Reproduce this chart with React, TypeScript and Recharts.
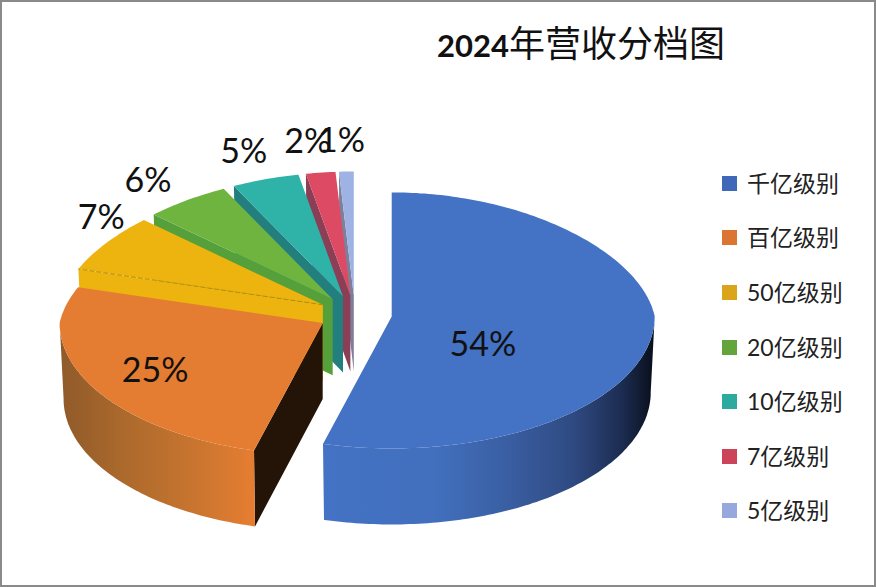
import { Legend, Pie, PieChart } from "recharts";

const CATEGORIES = ["千亿级别", "百亿级别", "50亿级别", "20亿级别", "10亿级别", "7亿级别", "5亿级别"];
const SHARES = [54.2, 25.45, 7.3, 5.52, 4.52, 2.0, 1.0];
const TITLE_YEAR = "2024";
const TITLE_REST = "年营收分档图";

const TOP_COLORS = ["#4472C4", "#E47D31", "#EDB30F", "#6FB43F", "#2FB3A9", "#DC4A63", "#9FB2E4"];
const WALL_COLORS = ["#3A62A8", "#241408", "#EDB30F", "#55A03A", "#237E7E", "#8A3F56", "#7F7F9B"];
const SWATCH_COLORS = ["#3F69B8", "#DB7534", "#DBA51B", "#64A53B", "#2CAA9F", "#CB4459", "#97A9DC"];
const SIDE_FILLS = ["url(#blueSide)", "url(#orangeSide)"];

// projection of the tilted pie
const RX = 263;
const RY_BACK = 124;
const RY_FRONT = 132;
const DEPTH = 76;
const EXPLODE = 37;
const TILT = 0.5;
const BOTTOM_SCALE = 0.985;
const BACK_NARROWING = 0.1;

// label placement: fraction of the radius, then a small screen nudge
const LABEL_RADIUS = [0.35, 0.72, 1, 1, 1, 1, 1];
const LABEL_NUDGE = [[0, 20], [-2, -1], [-5, -27], [-39, -22], [-22, -30], [-13, -33], [-5, -33]];

const sin = (d: number) => Math.sin((d * Math.PI) / 180);
const cos = (d: number) => Math.cos((d * Math.PI) / 180);

const apexOf = (cx: number, cy: number, mid: number) => ({
  x: cx + EXPLODE * sin(mid),
  y: cy - EXPLODE * TILT * cos(mid),
});

const rim = (apex: { x: number; y: number }, a: number, f = 1) => {
  const back = cos(a) > 0;
  const narrow = back ? 1 - BACK_NARROWING * cos(a) : 1;
  const ry = back ? RY_BACK : RY_FRONT;
  return { x: apex.x + RX * f * narrow * sin(a), y: apex.y - ry * f * cos(a) };
};

const toPath = (pts: { x: number; y: number }[]) =>
  "M" + pts.map((p) => `${p.x.toFixed(1)},${p.y.toFixed(1)}`).join("L") + "Z";

const arcAngles = (from: number, to: number) => {
  const out: number[] = [];
  for (let a = from; a < to; a += 1) out.push(a);
  out.push(to);
  return out;
};

function Slice3D(props: any) {
  const { cx, cy, startAngle, endAngle, name } = props;
  const i = CATEGORIES.indexOf(name);
  const a0 = 450 - endAngle;
  const a1 = 450 - startAngle;
  const apex = apexOf(cx, cy, (a0 + a1) / 2);
  const down = (p: { x: number; y: number }) => ({
    x: apex.x + (p.x - apex.x) * BOTTOM_SCALE,
    y: p.y + DEPTH,
  });

  const top = [apex, ...arcAngles(a0, a1).map((a) => rim(apex, a))];
  const from = Math.max(a0, 90);
  const to = Math.min(a1, 270);
  const outerWall =
    from < to
      ? [
          ...arcAngles(from, to).map((a) => rim(apex, a)),
          ...arcAngles(from, to).reverse().map((a) => down(rim(apex, a))),
        ]
      : null;
  const edge = rim(apex, a0);
  const innerWall =
    sin(a0) < 0 ? [apex, edge, down(edge), { x: apex.x, y: apex.y + DEPTH }] : null;

  return (
    <g>
      {innerWall && <path d={toPath(innerWall)} fill={WALL_COLORS[i]} />}
      {outerWall && <path d={toPath(outerWall)} fill={SIDE_FILLS[i] || WALL_COLORS[i]} />}
      <path d={toPath(top)} fill={TOP_COLORS[i]} />
      {i === 2 && innerWall && (
        <line x1={apex.x} y1={apex.y} x2={edge.x} y2={edge.y} stroke="#A98512" strokeWidth={0.8} strokeDasharray="5 2" />
      )}
    </g>
  );
}

function renderLabel(props: any) {
  const { cx, cy, midAngle, name, percent } = props;
  const i = CATEGORIES.indexOf(name);
  const mid = 90 - midAngle + 360;
  const p = rim(apexOf(cx, cy, mid), mid, LABEL_RADIUS[i]);
  return (
    <text
      x={p.x + LABEL_NUDGE[i][0]}
      y={p.y + LABEL_NUDGE[i][1]}
      textAnchor="middle"
      dominantBaseline="central"
      fontFamily="Lato"
      fontSize={34}
      fill="#111"
      stroke="none"
    >
      {Math.round(percent * 100)}%
    </text>
  );
}

function LegendList() {
  return (
    <div>
      {CATEGORIES.map((c, i) => (
        <div key={c} style={{ display: "flex", alignItems: "center", height: 54.6 }}>
          <span style={{ width: 15, height: 15, background: SWATCH_COLORS[i], marginRight: 10 }} />
          <span style={{ fontFamily: "Lato, 'Noto Sans CJK SC'", fontSize: 23, color: "#222", lineHeight: 1 }}>{c}</span>
        </div>
      ))}
    </div>
  );
}

// drawn back to front, so the list runs backwards round the pie
const pieData = CATEGORIES.map((name, i) => ({ name, value: SHARES[i] })).reverse();

export default function App() {
  return (
    <div
      style={{
        position: "absolute",
        left: 0,
        top: 0,
        width: 876,
        height: 587,
        boxSizing: "border-box",
        border: "2px solid #8a8a8a",
        background: "#fff",
      }}
    >
      <PieChart width={872} height={583} margin={{ top: 0, right: 0, bottom: 0, left: 0 }}>
        <defs>
          <linearGradient id="blueSide" gradientUnits="userSpaceOnUse" x1={324} x2={650} y1={0} y2={0}>
            <stop offset="0" stopColor="#4472C4" />
            <stop offset="0.33" stopColor="#4270BE" />
            <stop offset="0.55" stopColor="#3A5FA3" />
            <stop offset="0.76" stopColor="#2F4A82" />
            <stop offset="0.91" stopColor="#1C2C50" />
            <stop offset="1" stopColor="#0A101E" />
          </linearGradient>
          <linearGradient id="orangeSide" gradientUnits="userSpaceOnUse" x1={58} x2={248} y1={0} y2={0}>
            <stop offset="0" stopColor="#8F5A2A" />
            <stop offset="0.35" stopColor="#AD6A2C" />
            <stop offset="0.75" stopColor="#CC7630" />
            <stop offset="1" stopColor="#E47D31" />
          </linearGradient>
        </defs>
        <text x={435} y={55} fill="#111">
          <tspan fontFamily="Lato" fontWeight={700} fontSize={31}>{TITLE_YEAR}</tspan>
          <tspan fontFamily="'Noto Sans CJK SC'" fontSize={36}>{TITLE_REST}</tspan>
        </text>
        <Pie
          data={pieData}
          dataKey="value"
          nameKey="name"
          cx={353}
          cy={312}
          innerRadius={0}
          outerRadius={RX}
          startAngle={90}
          endAngle={450}
          stroke="none"
          shape={Slice3D}
          label={renderLabel}
          labelLine={false}
          isAnimationActive={false}
        />
        <Legend
          layout="vertical"
          content={<LegendList />}
          wrapperStyle={{ position: "absolute", left: 720, top: 154, width: 150 }}
        />
      </PieChart>
    </div>
  );
}
